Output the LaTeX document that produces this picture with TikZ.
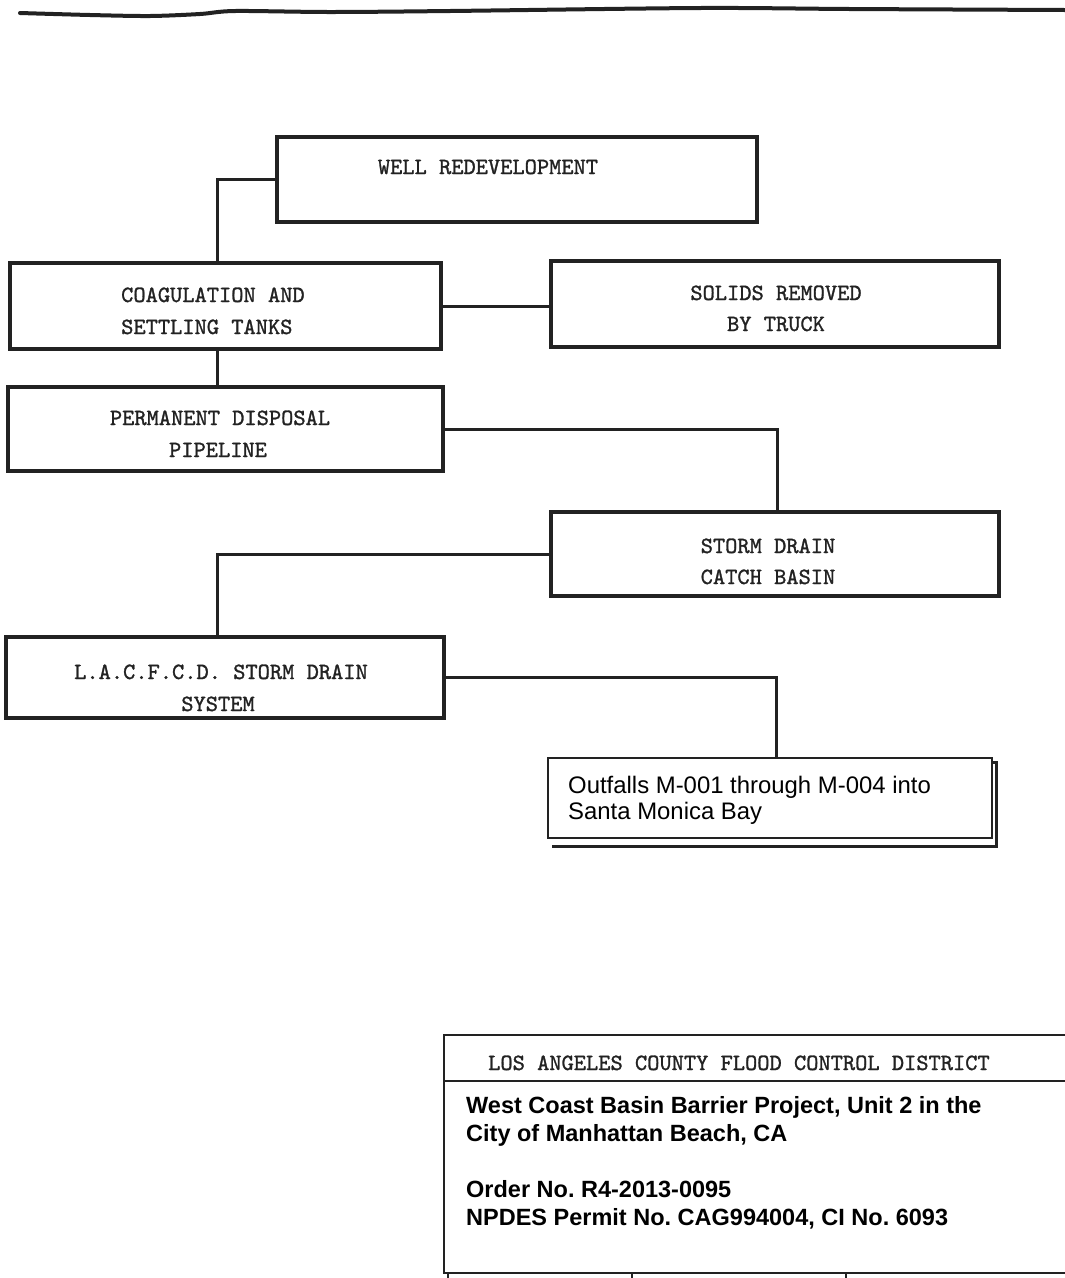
\documentclass[tikz,border=0pt]{standalone}
\usepackage{fontspec}
\newfontfamily\arial{Liberation Sans}
\newfontfamily\twfont{lmmono10-regular.otf}[FakeBold=1.2]
\frenchspacing
\definecolor{ink}{HTML}{222222}
\tikzset{
  box/.style={draw=ink, line width=3.2pt, rectangle, inner sep=0pt},
  conn/.style={draw=ink, line width=3pt},
  tw/.style={font=\fontsize{23.3}{30}\selectfont\twfont, text=ink, inner sep=0pt, anchor=base},
  twl/.style={tw, anchor=base west},
  sans/.style={font=\fontsize{23.9}{27}\selectfont\arial, text=black, inner sep=0pt, anchor=base west},
  sansb/.style={font=\fontsize{23.5}{28}\selectfont\arial\bfseries, text=black, inner sep=0pt, anchor=base west},
  rule/.style={draw=ink, line width=2.6pt}
}
\begin{document}
\begin{tikzpicture}[x=1pt,y=-1pt]
\useasboundingbox[fill=white] (0,0) rectangle (1065,1278);
% top wavy rule
\draw[ink, line width=4pt, line cap=round] plot[smooth] coordinates {(20,13) (90,15) (150,16) (200,14) (235,11) (330,12) (450,11) (700,8) (850,9) (1065,10)};
% boxes
\node[box, minimum width=480pt, minimum height=85pt] (well) at (517,179.5) {};
\node[box, minimum width=431pt, minimum height=86pt] (coag) at (225.5,306) {};
\node[box, minimum width=448pt, minimum height=86pt] (solids) at (775,304) {};
\node[box, minimum width=435pt, minimum height=84pt] (perm) at (225.5,429) {};
\node[box, minimum width=448pt, minimum height=84pt] (storm) at (775,554) {};
\node[box, minimum width=438pt, minimum height=81pt] (lac) at (225,677.5) {};
% outfall box with shadow
\draw[ink, line width=3pt] (552,762) -- (996,762) -- (996,846) -- (552,846);
\node[draw=ink, line width=1.6pt, fill=white, rectangle, inner sep=0pt, minimum width=444pt, minimum height=80pt] (out) at (770,798) {};
% connectors
\draw[conn] (well.west) -| ([xshift=-8.5pt]coag.north);
\draw[conn] (coag.east) -- (coag.east -| solids.west);
\draw[conn] ([xshift=-8.5pt]coag.south) -- ([xshift=-8.5pt]perm.north);
\draw[conn] (perm.east) -| ([xshift=2pt]storm.north);
\draw[conn] (storm.west) -| ([xshift=-8pt]lac.north);
\draw[conn] (lac.east) -| ([xshift=6pt]out.north);
% texts
\node[tw] (t1) at (488,174) {WELL REDEVELOPMENT};
\node[twl] (t2) at (121,302) {COAGULATION AND};
\node[twl] (t3) at (121,334) {SETTLING TANKS};
\node[tw] (t4) at (776,300) {SOLIDS REMOVED};
\node[tw] (t5) at (776,331) {BY TRUCK};
\node[tw] (t6) at (220,425) {PERMANENT DISPOSAL};
\node[tw] (t7) at (218,457) {PIPELINE};
\node[tw] (t8) at (768,553) {STORM DRAIN};
\node[tw] (t9) at (768,584) {CATCH BASIN};
\node[tw] (t10) at (221,679) {L.A.C.F.C.D. STORM DRAIN};
\node[tw] (t11) at (218,711) {SYSTEM};
\node[sans] (o1) at (568,793) {Outfalls M-001 through M-004 into};
\node[sans] (o2) at (568,819) {Santa Monica Bay};
% title block
\draw[rule] (1066,1035) -- (444,1035) -- (444,1273) -- (1066,1273);
\draw[rule] (444,1081) -- (1066,1081);
\draw[rule] (448,1273) -- (448,1279);
\draw[rule] (632,1273) -- (632,1279);
\draw[rule] (846,1273) -- (846,1279);
\node[twl] (hdr) at (488,1070) {LOS ANGELES COUNTY FLOOD CONTROL DISTRICT};
\node[sansb] (b1) at (466,1113) {West Coast Basin Barrier Project, Unit 2 in the};
\node[sansb] (b2) at (466,1141) {City of Manhattan Beach, CA};
\node[sansb] (b3) at (466,1197) {Order No. R4-2013-0095};
\node[sansb] (b4) at (466,1225) {NPDES Permit No. CAG994004, CI No. 6093};
\end{tikzpicture}
\end{document}
